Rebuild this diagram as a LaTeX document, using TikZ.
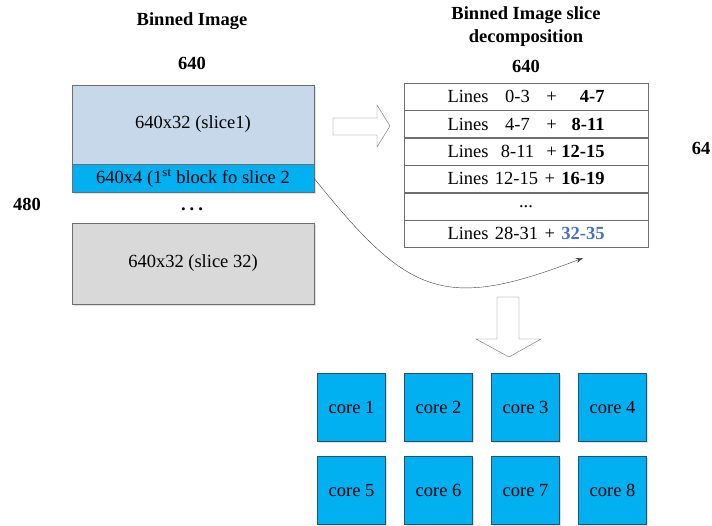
\documentclass[tikz,border=0pt]{standalone}
\usepackage{fontspec}
\setmainfont{Liberation Serif}
\usepackage{xcolor}
\usetikzlibrary{arrows.meta, positioning, shadows}
\definecolor{slicelight}{RGB}{198, 216, 233}
\definecolor{stripcyan}{RGB}{0, 176, 240}
\definecolor{slicegray}{RGB}{217, 217, 217}
\definecolor{rowblue}{RGB}{68, 114, 196}
\definecolor{edgegray}{RGB}{110, 110, 110}
\definecolor{coreedge}{RGB}{40, 80, 110}
\newcommand{\linesrow}[2]{\makebox[41pt][l]{Lines}\makebox[58pt][c]{#1}%
  \makebox[10pt][c]{+}\makebox[48pt][r]{#2}}
\newcommand{\linesfull}[1]{\makebox[157pt][s]{#1}}

\begin{document}
\begin{tikzpicture}[x=1pt, y=-1pt,
    font=\fontsize{18.5}{23}\selectfont,
    title/.style={font=\fontsize{18.5}{23}\selectfont\bfseries, align=center},
    slicebox/.style={draw=edgegray, minimum width=242pt, inner sep=0pt,
      drop shadow={shadow xshift=1.5pt, shadow yshift=-1.5pt, opacity=0.25}},
    rowbox/.style={draw=edgegray, fill=white, minimum width=244pt,
      minimum height=27pt, inner sep=0pt},
    corebox/.style={draw=coreedge, fill=stripcyan, minimum width=68pt,
      minimum height=68pt, inner sep=0pt,
      drop shadow={shadow xshift=1.5pt, shadow yshift=-1.5pt, opacity=0.25}},
    hollow/.style={draw=edgegray, fill=white, line join=miter}]
  \useasboundingbox (0,0) rectangle (712,525);
  % ── Binned image ──
  \node[title] (bintitle) at (192,21) {Binned Image};
  \node[title] (binwidth) at (192,63.5) {640};
  \node[title] (binheight) at (27,204.5) {480};
  \node[slicebox, fill=slicelight, minimum height=79pt] (slice1) at (193,124.5)
    {640x32 (slice1)};
  \node[slicebox, fill=stripcyan, minimum height=28pt, below=0pt of slice1]
    (strip) {640x4 (1\textsuperscript{st} block fo slice 2};
  \node[font=\fontsize{18.5}{23}\selectfont\bfseries] (dots) at (192,209)
    {.\hspace{4pt}.\hspace{4pt}.};
  \node[slicebox, fill=slicegray, minimum height=81pt] (slice32) at (193,263.5)
    {640x32 (slice 32)};
  % ── Block arrow to the right ──
  \draw[hollow] (333,118) -- (377,118) -- (377,105) -- (390,126)
    -- (377,147) -- (377,135) -- (333,135) -- cycle;
  % ── Slice decomposition ──
  \node[title] (dectitle) at (526,27) {Binned Image slice\\decomposition};
  \node[title] (decwidth) at (526,66.5) {640};
  \node[title] (dechalf) at (701,148) {64};
  \node[rowbox, anchor=north] (row1) at (526,83) {\linesrow{0-3}{\textbf{4-7}}};
  \node[rowbox, below=0pt of row1] (row2) {\linesrow{4-7}{\textbf{8-11}}};
  \node[rowbox, below=0pt of row2] (row3) {\linesrow{8-11}{\textbf{12-15}}};
  \node[rowbox, below=0pt of row3] (row4)
    {\linesfull{Lines 12-15 + \textbf{16-19}}};
  \node[rowbox, below=0pt of row4] (row5) {...};
  \node[rowbox, below=0pt of row5] (row6)
    {\linesfull{Lines 28-31 + \textcolor{rowblue}{\textbf{32-35}}}};
  % ── Curved link ──
  \coordinate (linkend) at (583,258);
  \draw[-{Stealth[length=7pt, width=5pt]}, draw=black!75, thin]
    (strip.east) .. controls +(94,117) and +(-140,54) .. (linkend);
  % ── Block arrow down ──
  \draw[hollow] (497,297) -- (519,297) -- (519,339) -- (541,339)
    -- (509,357) -- (476,339) -- (497,339) -- cycle;
  % ── Cores ──
  \foreach \r in {0,1}
    \foreach \c in {1,...,4} {
      \pgfmathtruncatemacro{\k}{4*\r+\c}
      \node[corebox] (core\k) at ({351.5+87*(\c-1)}, {407+83.5*\r}) {core \k};
    }
\end{tikzpicture}
\end{document}
